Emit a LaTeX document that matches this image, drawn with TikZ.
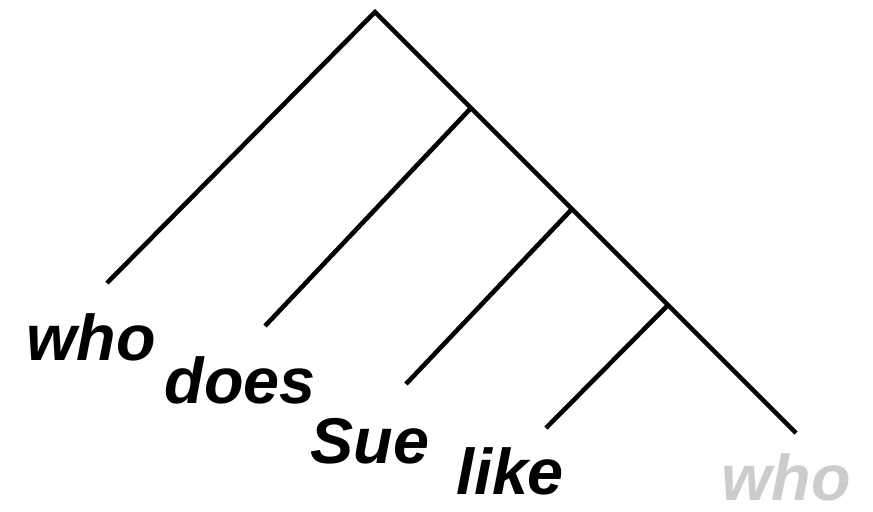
\documentclass[tikz,border=0pt]{standalone}
\usepackage{fontspec}
\setmainfont{Liberation Sans}
\begin{document}
\begin{tikzpicture}[x=0.01cm,y=-0.01cm,
  branch/.style={line width=1.3pt,line cap=butt},
  word/.style={font=\fontsize{18.4pt}{21pt}\selectfont\bfseries\itshape,inner sep=0pt,anchor=base},
  ghost/.style={word,text=black!20}]
\useasboundingbox (0,0) rectangle (873,511);
\coordinate (top) at (375,12);
\coordinate (l0) at (107,283);
\coordinate (r) at (796,433);
\coordinate (b1) at (471,108);
\coordinate (l1) at (265,326);
\coordinate (b2) at (572,209);
\coordinate (l2) at (406,384);
\coordinate (b3) at (668,305);
\coordinate (l3) at (546,428);
\draw[branch,line join=miter] (l0) -- (top) -- (r);
\draw[branch] (b1) -- (l1);
\draw[branch] (b2) -- (l2);
\draw[branch] (b3) -- (l3);
\node[word] (w1) at (91,360) {who};
\node[word] (w2) at (240,403) {does};
\node[word] (w3) at (370,463) {Sue};
\node[word] (w4) at (510,494) {like};
\node[ghost] (w5) at (786,500) {who};
\end{tikzpicture}
\end{document}
